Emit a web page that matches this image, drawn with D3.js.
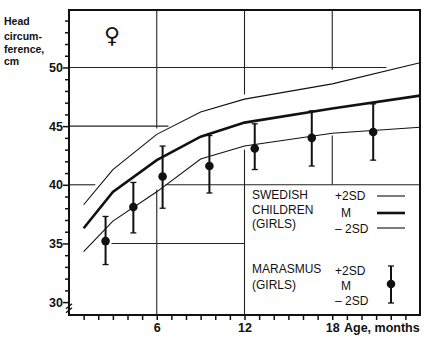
<!DOCTYPE html>
<html>
<head>
<meta charset="utf-8">
<script src="https://cdn.jsdelivr.net/npm/d3@7"></script>
<style>
  body { margin: 0; background: #fff; }
  svg text { font-family: "Liberation Sans", Arial, sans-serif; fill: #111; }
</style>
</head>
<body>
<div id="chart"></div>
<script>
// Swedish reference curves (girls), head circumference in cm
let ref_months = [1, 3, 6, 9, 12, 18, 24];
let ref_upper = [38.3, 41.3, 44.3, 46.2, 47.3, 48.6, 50.4];
let ref_mean = [36.3, 39.4, 42.1, 44.1, 45.3, 46.5, 47.6];
let ref_lower = [34.3, 36.9, 39.4, 42.2, 43.3, 44.4, 44.9];

// marasmus girls, mean +- 2SD
let mar_age = [2.5, 4.4, 6.4, 9.6, 12.7, 16.6, 20.8];
let mar_mean = [35.2, 38.1, 40.7, 41.6, 43.1, 44.0, 44.5];
let mar_hi = [37.3, 40.2, 43.3, 44.2, 45.2, 46.3, 46.9];
let mar_lo = [33.2, 35.9, 38.0, 39.3, 41.3, 41.6, 42.1];

let x_ticks = [6, 12, 18];
let y_ticks = [30, 35, 40, 45, 50];

// grid pieces as drawn in the original (value, from, to)
let v_grid = [[6, 28.9, 39.6], [6, 44.8, 54.9], [12, 28.9, 43.0], [12, 47.7, 54.9], [18, 40, 44.2], [18, 49.8, 54.9]];
let h_grid = [[50, 0, 21.7], [45, 0, 6.8], [40, 0, 1.8], [40, 6.6, 24], [35, 2.9, 12]];

let width = 424, height = 339;
let x = d3.scaleLinear().domain([0, 24]).range([69, 420]);
let y = d3.scaleLinear().domain([28.9, 54.9]).range([315, 10]);

let svg = d3.select("#chart").append("svg")
    .attr("width", width).attr("height", height);

// grid
svg.append("g").selectAll("line").data(v_grid).enter().append("line")
    .attr("x1", d => x(d[0])).attr("x2", d => x(d[0]))
    .attr("y1", d => y(d[1])).attr("y2", d => y(d[2]))
    .attr("stroke", "#222").attr("stroke-width", 1.1);
svg.append("g").selectAll("line").data(h_grid).enter().append("line")
    .attr("y1", d => y(d[0])).attr("y2", d => y(d[0]))
    .attr("x1", d => x(d[1])).attr("x2", d => x(d[2]))
    .attr("stroke", "#222").attr("stroke-width", 1.1);

// frame
svg.append("rect")
    .attr("x", x(0)).attr("y", y(54.9))
    .attr("width", x(24) - x(0)).attr("height", y(28.9) - y(54.9))
    .attr("fill", "none").attr("stroke", "#111").attr("stroke-width", 2);

// axes
let xAxis = d3.axisBottom(x).tickValues(d3.range(1, 24)).tickSize(5).tickFormat(d => x_ticks.includes(d) ? d : "");
let gx = svg.append("g").attr("transform", "translate(0," + y(28.9) + ")").call(xAxis);
let yAxis = d3.axisLeft(y).tickValues(d3.range(30, 55)).tickSize(4).tickFormat(d => y_ticks.includes(d) ? d : "");
let gy = svg.append("g").attr("transform", "translate(" + x(0) + ",0)").call(yAxis);
[gx, gy].forEach(g => {
    g.select(".domain").remove();
    g.selectAll(".tick line").attr("stroke", "#111").attr("stroke-width", 1.5);
    g.selectAll(".tick text").style("font-size", "12.5px").style("font-weight", "bold").attr("fill", "#111");
});
gy.selectAll(".tick").filter(d => y_ticks.includes(d)).select("line").attr("x2", -6);
gy.selectAll(".tick text").attr("x", -6);
gx.selectAll(".tick text").attr("y", 8);

// axis break mark
svg.append("path")
    .attr("d", "M" + (x(0) - 3) + "," + (y(29.6) + 2) + "l6,-5 M" + (x(0) - 3) + "," + (y(29.6) + 6) + "l6,-5")
    .attr("stroke", "#111").attr("stroke-width", 1.3).attr("fill", "none");

// reference curves
let line = d3.line().x((d, i) => x(ref_months[i])).y(d => y(d));
svg.append("path").attr("d", line(ref_upper)).attr("fill", "none").attr("stroke", "#111").attr("stroke-width", 1.1);
svg.append("path").attr("d", line(ref_lower)).attr("fill", "none").attr("stroke", "#111").attr("stroke-width", 1.1);
svg.append("path").attr("d", line(ref_mean)).attr("fill", "none").attr("stroke", "#111").attr("stroke-width", 2.6);

// marasmus error bars
let mar = mar_age.map((a, i) => ({ age: a, mean: mar_mean[i], hi: mar_hi[i], lo: mar_lo[i] }));
let eb = svg.append("g").selectAll("g").data(mar).enter().append("g");
eb.append("line").attr("x1", d => x(d.age)).attr("x2", d => x(d.age))
    .attr("y1", d => y(d.hi)).attr("y2", d => y(d.lo)).attr("stroke", "#111").attr("stroke-width", 2);
eb.append("line").attr("x1", d => x(d.age) - 3).attr("x2", d => x(d.age) + 3)
    .attr("y1", d => y(d.hi)).attr("y2", d => y(d.hi)).attr("stroke", "#111").attr("stroke-width", 1.3);
eb.append("line").attr("x1", d => x(d.age) - 3).attr("x2", d => x(d.age) + 3)
    .attr("y1", d => y(d.lo)).attr("y2", d => y(d.lo)).attr("stroke", "#111").attr("stroke-width", 1.3);
eb.append("circle").attr("cx", d => x(d.age)).attr("cy", d => y(d.mean)).attr("r", 4.3).attr("fill", "#111");

// axis titles
let yt = svg.append("text").style("font-size", "10.5px").style("font-weight", "bold");
["Head", "circum-", "ference,", "cm"].forEach((t, i) => {
    yt.append("tspan").attr("x", 4).attr("y", [25, 40, 53, 65][i]).text(t);
});
svg.append("text").attr("x", 344).attr("y", 332).style("font-size", "12.5px").style("font-weight", "bold").text("Age, months");
svg.append("text").attr("x", 112).attr("y", 43).attr("text-anchor", "middle")
    .style("font-family", "'DejaVu Sans', sans-serif").style("font-size", "22px").style("font-weight", "bold").text("\u2640");

// legend
let lg = svg.append("g").style("font-size", "12px");
[["SWEDISH", 199], ["CHILDREN", 214], ["(GIRLS)", 228], ["MARASMUS", 273], ["(GIRLS)", 289]].forEach(d => {
    lg.append("text").attr("x", 252).attr("y", d[1]).text(d[0]);
});
[["+2SD", 200, 335], ["M", 217, 341], ["\u2013 2SD", 233, 335], ["+2SD", 275, 335], ["M", 290, 341], ["\u2013 2SD", 305, 335]].forEach(d => {
    lg.append("text").attr("x", d[2]).attr("y", d[1]).text(d[0]);
});
[[196, 1.1], [213, 2.6], [228, 1.1]].forEach(d => {
    lg.append("line").attr("x1", 377).attr("x2", 405).attr("y1", d[0]).attr("y2", d[0])
        .attr("stroke", "#111").attr("stroke-width", d[1]);
});
lg.append("line").attr("x1", 391).attr("x2", 391).attr("y1", 266).attr("y2", 303).attr("stroke", "#111").attr("stroke-width", 2);
lg.append("line").attr("x1", 388).attr("x2", 394).attr("y1", 266).attr("y2", 266).attr("stroke", "#111").attr("stroke-width", 1.3);
lg.append("line").attr("x1", 388).attr("x2", 394).attr("y1", 303).attr("y2", 303).attr("stroke", "#111").attr("stroke-width", 1.3);
lg.append("circle").attr("cx", 391).attr("cy", 284).attr("r", 4.3).attr("fill", "#111");
</script>
</body>
</html>
